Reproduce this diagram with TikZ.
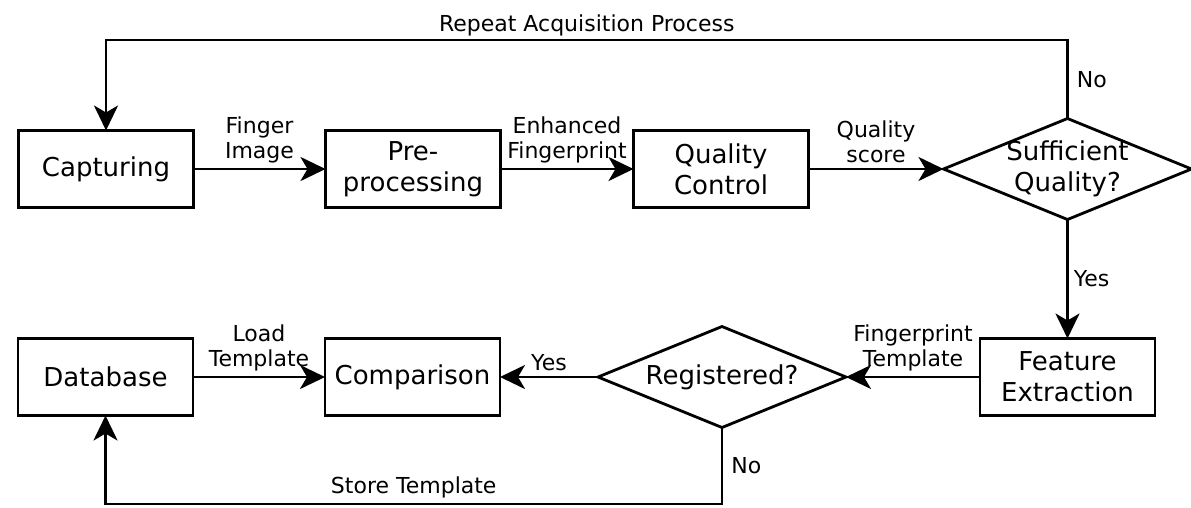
\documentclass[tikz,border=0pt]{standalone}
\usepackage{fontspec}
\setmainfont{DejaVu Sans}
\usetikzlibrary{arrows.meta,positioning,shapes.geometric}

\begin{document}
\begin{tikzpicture}[x=1pt, y=-1pt,
  box/.style={draw, line width=2.8pt, align=center, minimum width=175pt, minimum height=77pt, inner sep=2pt, outer sep=0pt, font=\fontsize{26}{31}\selectfont},
  dec/.style={draw, diamond, aspect=2.5, line width=2.8pt, align=center, minimum width=248pt, minimum height=101pt, inner sep=-2.5pt, outer sep=0pt, font=\fontsize{26}{31}\selectfont},
  lbl/.style={align=center, inner sep=5pt, font=\fontsize{22}{25}\selectfont},
  arr/.style={-{Stealth[length=25pt, width=24pt, inset=7pt]}, line width=2.8pt}]
\useasboundingbox (0,0) rectangle (1191,507);
% acquisition row
\node[box] (cap) at (106,169) {Capturing};
\node[box, right=132pt of cap] (pre) {Pre-\\processing};
\node[box, right=133pt of pre] (qc) {Quality\\Control};
\node[dec, right=135pt of qc] (sq) {Sufficient\\Quality?};
% matching row
\node[box, below=119pt of sq] (fe) {Feature\\Extraction};
\node[dec, left=134pt of fe] (reg) {Registered?};
\node[box, left=98pt of reg] (cmp) {Comparison};
\node[box, left=132pt of cmp] (db) {Database};
\coordinate (rep) at (590,40);
\coordinate (sto) at (413,504);
\foreach \a/\b/\lab in {cap/pre/{Finger\\Image}, pre/qc/{Enhanced\\Fingerprint}, qc/sq/{Quality\\score}, fe/reg/{Fingerprint\\Template}, reg/cmp/{Yes}, db/cmp/{Load\\Template}}
  \draw[arr] (\a) -- (\b) node[lbl, midway, above]{\lab};
\draw[arr] (sq) -- node[lbl, right]{Yes} (fe);
% loops back
\draw[arr] (sq.north) -- node[lbl, right, inner sep=8pt]{No} (sq.north |- rep) -- node[lbl, above, inner sep=3pt]{Repeat Acquisition Process} (cap.north |- rep) -- (cap.north);
\draw[arr] (reg.south) -- node[lbl, right, inner sep=8pt]{No} (reg.south |- sto) -- node[lbl, above]{Store Template} (db.south |- sto) -- (db.south);
\end{tikzpicture}
\end{document}
